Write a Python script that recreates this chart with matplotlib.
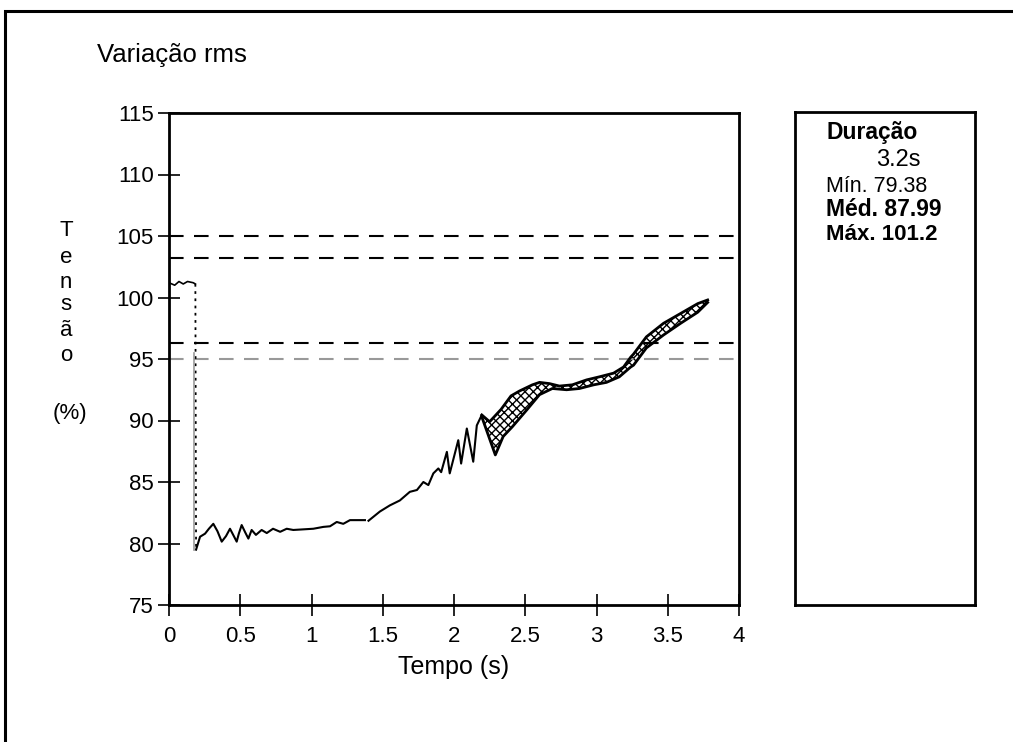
#Import Modules
import matplotlib.pyplot as plt
from matplotlib.patches import Rectangle

plt.rcParams['font.family'] = ['Liberation Sans', 'DejaVu Sans']

#Chart data
#Main rms trace: time (s) and voltage (%)
main_t = [0.00, 0.04, 0.07, 0.10, 0.13, 0.17, 0.185]
main_v = [101.2, 101.0, 101.3, 101.1, 101.3, 101.2, 101.1]

drop_t = [0.185, 0.19]
drop_v = [101.1, 79.4]

trace_t = [0.19, 0.218, 0.253, 0.28, 0.311, 0.34, 0.37, 0.40, 0.428, 0.455, 0.475, 0.49, 0.51,
           0.535, 0.557, 0.58, 0.61, 0.65, 0.686, 0.73, 0.78, 0.826, 0.872, 0.943, 1.013,
           1.083, 1.13, 1.177, 1.223, 1.27, 1.375]
trace_v = [79.5, 80.55, 80.8, 81.2, 81.6, 81.0, 80.15, 80.6, 81.2, 80.6, 80.15, 80.8, 81.5,
           80.9, 80.4, 81.1, 80.7, 81.1, 80.85, 81.2, 80.95, 81.2, 81.1, 81.15, 81.2,
           81.35, 81.4, 81.75, 81.6, 81.9, 81.9]

rise_t = [1.40, 1.48, 1.55, 1.62, 1.64, 1.69, 1.74, 1.785, 1.82, 1.855, 1.89, 1.91,
          1.95, 1.97, 2.03, 2.05, 2.09, 2.135, 2.16, 2.195]
rise_v = [81.85, 82.6, 83.1, 83.5, 83.7, 84.2, 84.35, 85.0, 84.75, 85.7, 86.1, 85.8,
          87.45, 85.7, 88.4, 86.5, 89.35, 86.65, 89.6, 90.45]

#Envelope of the overlapping traces after 2.2 s
upper_t = [2.195, 2.25, 2.33, 2.40, 2.46, 2.55, 2.60, 2.67, 2.74, 2.83, 2.93, 3.02,
           3.12, 3.19, 3.24, 3.26, 3.35, 3.47, 3.59, 3.71, 3.78]
upper_v = [90.45, 89.9, 90.9, 92.0, 92.4, 92.9, 93.1, 93.0, 92.8, 92.9, 93.3, 93.55,
           93.85, 94.35, 95.15, 95.4, 96.8, 97.9, 98.7, 99.5, 99.8]
lower_t = [2.195, 2.29, 2.345, 2.41, 2.51, 2.60, 2.69, 2.79, 2.88, 2.98, 3.07, 3.16,
           3.24, 3.26, 3.35, 3.47, 3.59, 3.71, 3.78]
lower_v = [90.3, 87.2, 88.7, 89.5, 90.85, 92.1, 92.6, 92.5, 92.6, 92.9, 93.1, 93.55,
           94.35, 94.5, 95.9, 96.95, 97.9, 98.8, 99.6]

#Reference levels (dashed lines)
level_values = [105, 103.2, 96.3, 95.0]
level_colors = ["black", "black", "black", "#999999"]

x_ticks = [0, 0.5, 1, 1.5, 2, 2.5, 3, 3.5, 4]
x_tick_labels = ["0", "0.5", "1", "1.5", "2", "2.5", "3", "3.5", "4"]
y_ticks = [75, 80, 85, 90, 95, 100, 105, 110, 115]

stats_lines = ["Duração", "3.2s", "Mín. 79.38", "Méd. 87.99", "Máx. 101.2"]
stats_weights = ["bold", "normal", "normal", "bold", "bold"]
stats_sizes = [16.5, 17, 15.5, 16.5, 16]

#Figure
fig = plt.figure(figsize=(10.13, 7.42), dpi=100)
fig.patch.set_facecolor("white")

#Outer frame (cut by the right and bottom edges)
fig.patches.append(Rectangle((5 / 1013, -0.1), 1.2, 1 - 11 / 742 + 0.1, transform=fig.transFigure,
                             fill=False, edgecolor="black", linewidth=2.2, clip_on=False))

ax = fig.add_axes([169 / 1013, 1 - 605 / 742, 570 / 1013, 492 / 742])

for val, col in zip(level_values, level_colors):
    ax.axhline(val, color=col, linestyle=(0, (7, 5)), linewidth=1.5)

ax.plot(main_t, main_v, color="black", linewidth=1.2)
ax.plot(drop_t, drop_v, color="black", linewidth=1.3, linestyle=(0, (1.5, 2.5)))
ax.plot([drop_t[0] - 0.01, drop_t[0] - 0.01], [95.5, 79.5], color="#999999", linewidth=1.2)
ax.plot(trace_t, trace_v, color="black", linewidth=1.5)
ax.plot(rise_t, rise_v, color="black", linewidth=1.5)

#Band of overlapping traces drawn as a hatched polygon
band_t = upper_t + lower_t[::-1]
band_v = upper_v + lower_v[::-1]
plt.rcParams['hatch.linewidth'] = 1.0
ax.fill(band_t, band_v, facecolor="none", edgecolor="black", hatch="xxxx", linewidth=0)
ax.plot(upper_t, upper_v, color="black", linewidth=2)
ax.plot(lower_t, lower_v, color="black", linewidth=2)

ax.set_xlim(0, 4)
ax.set_ylim(75, 115)
ax.set_xticks(x_ticks)
ax.set_xticklabels(x_tick_labels)
ax.set_yticks(y_ticks)
ax.tick_params(axis="both", direction="inout", length=16, width=1.2, labelsize=16)
ax.tick_params(axis="x", pad=7)
ax.tick_params(axis="y", pad=3)
for s in ax.spines.values():
    s.set_linewidth(2)
ax.set_xlabel("Tempo (s)", fontsize=18, labelpad=6)

#Title
fig.text(97 / 1013, 1 - 55 / 742, "Variação rms", fontsize=18.5, va="center", ha="left")

#Vertical y label, one letter per line
ylabel_letters = ["T", "e", "n", "s", "ã", "o"]
ylabel_y = [230, 258, 282, 305, 330, 355]
for letter, yp in zip(ylabel_letters, ylabel_y):
    fig.text(66 / 1013, 1 - yp / 742, letter, fontsize=16, ha="center", va="center")
fig.text(70 / 1013, 1 - 413 / 742, "(%)", fontsize=16, ha="center", va="center")

#Statistics box
box = fig.add_axes([795 / 1013, 1 - 605 / 742, 180 / 1013, 493 / 742])
box.set_xticks([])
box.set_yticks([])
for s in box.spines.values():
    s.set_linewidth(2)
stats_x = [826, 876, 826, 826, 826]
stats_y = [133, 160, 186, 210, 234]
for txt, w, fs, xp, yp in zip(stats_lines, stats_weights, stats_sizes, stats_x, stats_y):
    fig.text(xp / 1013, 1 - yp / 742, txt, fontsize=fs, fontweight=w, ha="left", va="center")

plt.savefig("out.png", dpi=100)
